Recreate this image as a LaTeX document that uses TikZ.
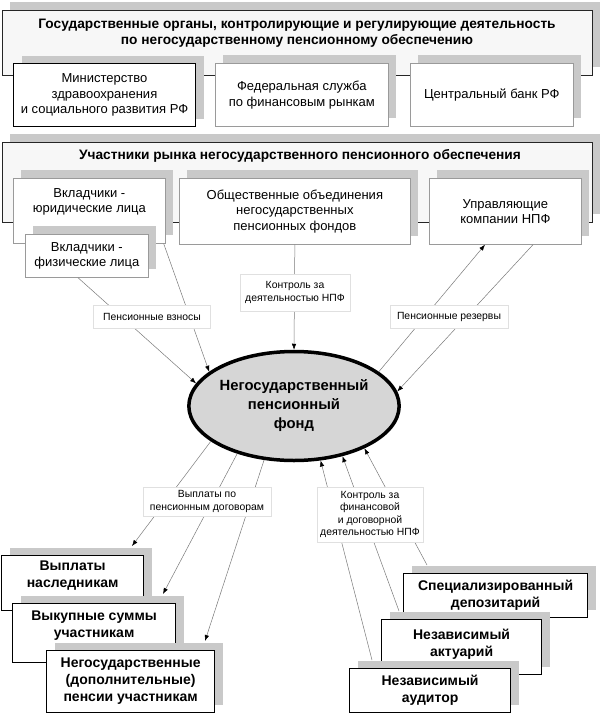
\documentclass[tikz,border=0pt]{standalone}
\usepackage{fontspec}
\setmainfont{Liberation Sans}
\usetikzlibrary{shapes.geometric,shadows,arrows.meta,calc}
\definecolor{shade}{HTML}{C9C9C9}
\definecolor{bigfill}{HTML}{F7F7F7}
\definecolor{lblborder}{HTML}{E0E0E0}
\definecolor{connc}{HTML}{7A7A7A}
\definecolor{boxgray}{HTML}{9A9A9A}
\definecolor{npffill}{HTML}{D6D6D6}
\tikzset{
  shad/.style={drop shadow={shadow xshift=8pt,shadow yshift=8pt,fill=shade,opacity=1}},
  bigbox/.style={shad, draw=black!85, line width=0.9pt, fill=bigfill, anchor=north west, inner sep=0pt},
  regfont/.style={font=\fontsize{13}{15.5}\selectfont},
  graybox/.style={shad, draw=boxgray, line width=0.7pt, fill=white, anchor=north west, inner sep=0pt, align=center, regfont},
  darkbox/.style={graybox, draw=black, line width=1pt},
  boldfont/.style={font=\bfseries\fontsize{14}{17}\selectfont},
  boldbox/.style={shad, draw=black, line width=1.2pt, fill=white, anchor=north west, inner sep=0pt, align=center, boldfont},
  titletext/.style={font=\bfseries\fontsize{13.7}{16}\selectfont, align=center},
  lbl/.style={draw=lblborder, line width=0.6pt, fill=white, align=center, inner sep=0pt, font=\fontsize{10.4}{12.3}\selectfont},
  conn/.style={draw=connc, line width=0.5pt},
  arr/.style={conn, -{Latex[length=6pt,width=4.5pt,color=black]}},
  npfstyle/.style={ellipse, draw=black, line width=3.5pt, fill=npffill, minimum width=203pt, minimum height=109pt, inner sep=0pt, align=center, font=\bfseries\fontsize{14.8}{19}\selectfont},
}
\begin{document}
\begin{tikzpicture}[x=1pt,y=-1pt]
\fill[white] (0,0) rectangle (600,713);
\useasboundingbox (0,0) rectangle (600,713);

% --- state bodies ---
\node[bigbox, minimum width=590pt, minimum height=65pt] (gov) at (2,10) {};
\node[titletext] (govtitle) at (297,33) {Государственные органы, контролирующие и регулирующие деятельность\\по негосударственному пенсионному обеспечению};
\node[darkbox, minimum width=182pt, minimum height=63pt] (min) at (13,63) {Министерство\\здравоохранения\\и социального развития РФ};
\node[graybox, minimum width=173pt, minimum height=63pt] (fed) at (215,63) {Федеральная служба\\по финансовым рынкам};
\node[graybox, minimum width=163pt, minimum height=63pt] (cb) at (410,63) {Центральный банк РФ};

% --- market participants ---
\node[bigbox, minimum width=590pt, minimum height=80pt] (part) at (2,142) {};
\node[titletext] (parttitle) at (300,156) {Участники рынка негосударственного пенсионного обеспечения};
\node[graybox, minimum width=152pt, minimum height=65pt,
      label={[regfont, align=center, yshift=9pt]center:{Вкладчики -\\юридические лица}}] (yur) at (13,178) {};
\node[graybox, minimum width=123pt, minimum height=43pt] (fiz) at (25,234) {Вкладчики -\\физические лица};
\node[graybox, minimum width=231pt, minimum height=66pt] (obsh) at (179,178) {Общественные объединения\\негосударственных\\пенсионных фондов};
\node[graybox, minimum width=152pt, minimum height=66pt] (upr) at (429,178) {Управляющие\\компании НПФ};

% --- fund ---
\node[npfstyle] (npf) at (294,406) {Негосударственный\\пенсионный\\фонд};

% --- payments ---
\node[boldbox, minimum width=142pt, minimum height=55pt,
      label={[boldfont, align=center, yshift=8pt]center:{Выплаты\\наследникам}}] (vA) at (1,555) {};
\node[boldbox, minimum width=163pt, minimum height=59pt,
      label={[boldfont, align=center, yshift=7pt]center:{Выкупные суммы\\участникам}}] (vB) at (12,603) {};
\node[boldbox, minimum width=168pt, minimum height=62pt] (vC) at (46,650) {Негосударственные\\(дополнительные)\\пенсии участникам};

% --- controllers ---
\node[boldbox, minimum width=184pt, minimum height=44pt] (dep) at (403,573) {Специализированный\\депозитарий};
\node[boldbox, minimum width=160pt, minimum height=55pt,
      label={[boldfont, align=center, yshift=3pt]center:{Независимый\\актуарий}}] (akt) at (381,619) {};
\node[boldbox, minimum width=161pt, minimum height=44pt] (aud) at (349,668) {Независимый\\аудитор};

% --- connectors ---
\draw[arr] ($(fiz.south west)+(53,0)$) -- (npf.167);
\draw[arr] ($(yur.south east)+(-2,0)$) -- (npf.158.6);
\draw[arr] (obsh.south) -- (npf.north);
\draw[arr] (npf.22.3) -- ($(upr.south west)+(56,0)$);
\draw[arr] ($(upr.south west)+(104,0)$) -- (npf.8);
\draw[arr] (npf.203.4) -- ($(vA.north west)+(131,-9)$);
\draw[arr] (npf.220.5) -- ($(vB.north west)+(151,-9)$);
\draw[arr] (npf.241.8) -- ($(vC.north west)+(159,-9)$);
\draw[arr] ($(aud.north west)+(23,-8)$) -- (npf.296.6);
\draw[arr] ($(akt.north west)+(18,-8)$) -- (npf.314);
\draw[arr] ($(dep.north west)+(24,-8)$) -- (npf.329.4);

% --- connector labels ---
\node[lbl, minimum width=110pt, minimum height=37pt] (ctrl1) at (295,292.5) {Контроль за\\деятельностью НПФ};
\node[lbl, minimum width=117pt, minimum height=23pt] (vzn) at (152,317) {Пенсионные взносы};
\node[lbl, minimum width=118pt, minimum height=23pt] (rez) at (449,317) {Пенсионные резервы};
\node[lbl, minimum width=128pt, minimum height=29pt] (vypl) at (207,501.5) {Выплаты по\\пенсионным договорам};
\node[lbl, minimum width=106pt, minimum height=55pt] (ctrl2) at (370,514.5) {Контроль за\\финансовой\\и договорной\\деятельностью НПФ};
\end{tikzpicture}
\end{document}
